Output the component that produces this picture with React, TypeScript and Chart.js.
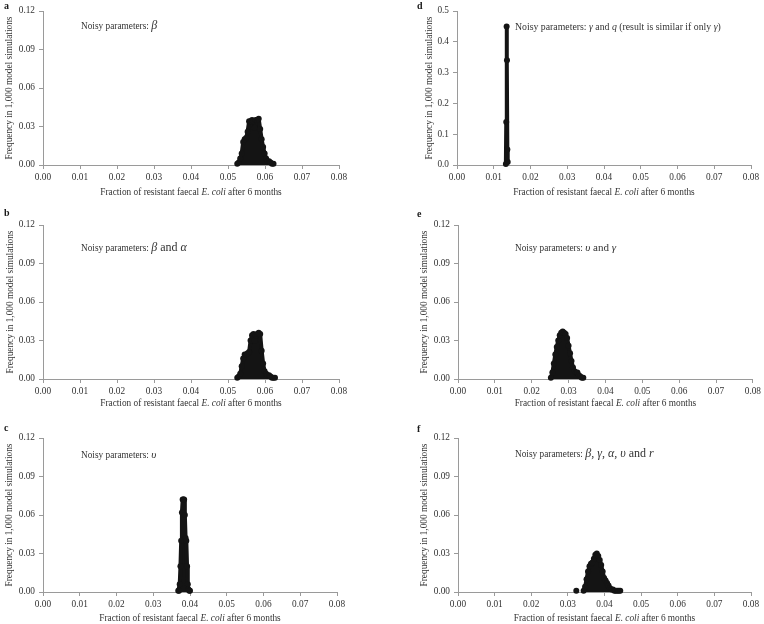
import React, { useEffect, useRef } from 'react';
import { Chart, registerables } from 'chart.js';
Chart.register(...registerables);

const FONT = "'Liberation Serif', 'Times New Roman', Times, serif";
const TEXT = '#333333';
const AXIS = '#9a9a9a';
const INK = '#141414';

// ---- data (fraction of resistant faecal E. coli, frequency) ----
const aX = [0.0525, 0.0529, 0.0533, 0.0537, 0.0541, 0.0545, 0.0549, 0.0553, 0.0557, 0.0561, 0.0565, 0.0569, 0.0572, 0.0575, 0.0579, 0.0583, 0.0587, 0.0591, 0.0595, 0.0599, 0.0603, 0.0607, 0.0611, 0.0615, 0.0619, 0.0623];
const aY = [0.001, 0.002, 0.005, 0.009, 0.018, 0.020, 0.021, 0.026, 0.034, 0.034, 0.035, 0.034, 0.029, 0.035, 0.035, 0.036, 0.028, 0.020, 0.014, 0.009, 0.005, 0.003, 0.003, 0.002, 0.001, 0.001];

const bX = [0.0525, 0.0529, 0.0533, 0.0537, 0.0541, 0.0545, 0.0549, 0.0553, 0.0557, 0.0561, 0.0565, 0.0569, 0.0572, 0.0575, 0.0579, 0.0583, 0.0587, 0.0591, 0.0595, 0.0599, 0.0603, 0.0607, 0.0611, 0.0615, 0.0619, 0.0623, 0.0627];
const bY = [0.001, 0.002, 0.004, 0.010, 0.016, 0.019, 0.019, 0.020, 0.021, 0.030, 0.034, 0.035, 0.030, 0.034, 0.035, 0.036, 0.035, 0.022, 0.012, 0.006, 0.004, 0.003, 0.003, 0.002, 0.001, 0.001, 0.001];

const cX = [0.0368, 0.0370, 0.0372, 0.0374, 0.0376, 0.0378, 0.0380, 0.0382, 0.0384, 0.0386, 0.0388, 0.0390, 0.0392, 0.0394, 0.0396, 0.0398, 0.0400];
const cY = [0.001, 0.001, 0.006, 0.020, 0.040, 0.062, 0.072, 0.072, 0.072, 0.060, 0.042, 0.040, 0.020, 0.006, 0.002, 0.001, 0.001];

const dX = [0.0133, 0.0134, 0.0135, 0.0136, 0.0137, 0.0138];
const dY = [0.003, 0.14, 0.45, 0.34, 0.05, 0.01];

const eX = [0.0252, 0.0256, 0.0260, 0.0264, 0.0268, 0.0272, 0.0276, 0.0280, 0.0284, 0.0288, 0.0292, 0.0296, 0.0300, 0.0304, 0.0308, 0.0312, 0.0316, 0.0320, 0.0324, 0.0328, 0.0332, 0.0336, 0.0340];
const eY = [0.001, 0.005, 0.012, 0.019, 0.025, 0.030, 0.034, 0.036, 0.037, 0.036, 0.035, 0.032, 0.026, 0.020, 0.014, 0.009, 0.006, 0.005, 0.005, 0.003, 0.002, 0.001, 0.001];

const fX = [0.0323, 0.0333, 0.0343, 0.0347, 0.0351, 0.0355, 0.0359, 0.0363, 0.0367, 0.0371, 0.0375, 0.0379, 0.0383, 0.0387, 0.0391, 0.0395, 0.0399, 0.0403, 0.0407, 0.0411, 0.0415, 0.0419, 0.0423, 0.0427, 0.0431, 0.0435, 0.0439, 0.0443];
const fY = [0.001, null, 0.001, 0.004, 0.010, 0.016, 0.020, 0.022, 0.023, 0.026, 0.029, 0.030, 0.028, 0.025, 0.021, 0.016, 0.011, 0.009, 0.007, 0.005, 0.003, 0.002, 0.002, 0.001, 0.001, 0.001, 0.001, 0.001];

const X_MIN = 0;
const X_MAX = 0.08;
const X_STEP = 0.01;
const Y_TITLE = 'Frequency in 1,000 model simulations';

type Seg = [string, boolean, number];

const X_TITLE: Seg[] = [
  ['Fraction of resistant faecal ', false, 9.3],
  ['E. coli', true, 9.3],
  [' after 6 months', false, 9.3],
];

const notes: Record<string, Seg[]> = {
  a: [['Noisy parameters: ', false, 9.3], ['β', true, 12]],
  b: [['Noisy parameters: ', false, 9.3], ['β', true, 12], [' and ', false, 12], ['α', true, 12]],
  c: [['Noisy parameters: ', false, 9.3], ['υ', true, 11]],
  d: [['Noisy parameters: ', false, 9.8], ['γ', true, 9.8], [' and ', false, 9.8], ['q', true, 9.8], [' (result is similar if only ', false, 9.8], ['γ', true, 9.8], [')', false, 9.8]],
  e: [['Noisy parameters: ', false, 9.3], ['υ', true, 11], [' and ', false, 11], ['γ', true, 11]],
  f: [['Noisy parameters: ', false, 9.3], ['β', true, 12], [', ', false, 12], ['γ', true, 12], [', ', false, 12], ['α', true, 12], [', ', false, 12], ['υ', true, 12], [' and ', false, 12], ['r', true, 12]],
};

interface PanelCfg {
  key: string;
  xs: number[];
  ys: (number | null)[];
  yMax: number;
  yStep: number;
  yDec: number;
  left: number;
  top: number;
  h: number;
  plotL: number;
  plotR: number;
  plotT: number;
  plotB: number;
  labelX: number;
  labelY: number;
  yTitleX: number;
  xTitleDy: number;
  noteX: number;
  noteY: number;
}

const panels: PanelCfg[] = [
  { key: 'a', xs: aX, ys: aY, yMax: 0.12, yStep: 0.03, yDec: 2, left: 0, top: 0, h: 200, plotL: 43, plotR: 339, plotT: 11, plotB: 165, labelX: 4, labelY: 6, yTitleX: 10, xTitleDy: 26.5, noteX: 81, noteY: 26 },
  { key: 'b', xs: bX, ys: bY, yMax: 0.12, yStep: 0.03, yDec: 2, left: 0, top: 205, h: 210, plotL: 43, plotR: 339, plotT: 20, plotB: 174, labelX: 4, labelY: 8, yTitleX: 11, xTitleDy: 24, noteX: 81, noteY: 43 },
  { key: 'c', xs: cX, ys: cY, yMax: 0.12, yStep: 0.03, yDec: 2, left: 0, top: 418, h: 206, plotL: 43, plotR: 337, plotT: 20, plotB: 174, labelX: 4, labelY: 10, yTitleX: 10, xTitleDy: 26, noteX: 81, noteY: 37 },
  { key: 'd', xs: dX, ys: dY, yMax: 0.5, yStep: 0.1, yDec: 1, left: 382, top: 0, h: 200, plotL: 75, plotR: 369, plotT: 11, plotB: 165, labelX: 35, labelY: 6, yTitleX: 48, xTitleDy: 26.5, noteX: 133, noteY: 27 },
  { key: 'e', xs: eX, ys: eY, yMax: 0.12, yStep: 0.03, yDec: 2, left: 382, top: 205, h: 210, plotL: 76, plotR: 371, plotT: 20, plotB: 174, labelX: 35, labelY: 9, yTitleX: 43, xTitleDy: 24, noteX: 133, noteY: 43 },
  { key: 'f', xs: fX, ys: fY, yMax: 0.12, yStep: 0.03, yDec: 2, left: 382, top: 418, h: 206, plotL: 76, plotR: 369, plotT: 20, plotB: 174, labelX: 35, labelY: 11, yTitleX: 43, xTitleDy: 26, noteX: 133, noteY: 36 },
];

function segFont(s: Seg) {
  return `${s[1] ? 'italic ' : ''}${s[2]}px ${FONT}`;
}

function drawSegs(ctx: CanvasRenderingContext2D, segs: Seg[], x: number, y: number, align: 'left' | 'center') {
  let total = 0;
  const widths = segs.map((s) => {
    ctx.font = segFont(s);
    const w = ctx.measureText(s[0]).width;
    total += w;
    return w;
  });
  let cx = align === 'center' ? x - total / 2 : x;
  ctx.textAlign = 'left';
  ctx.textBaseline = 'alphabetic';
  segs.forEach((s, i) => {
    ctx.font = segFont(s);
    ctx.fillText(s[0], cx, y + 3.3);
    cx += widths[i];
  });
}

function Panel({ cfg }: { cfg: PanelCfg }) {
  const ref = useRef<HTMLCanvasElement>(null);
  useEffect(() => {
    const canvas = ref.current;
    if (!canvas) return;
    const data = cfg.xs.map((x, i) => ({ x, y: cfg.ys[i] }));
    const textPlugin = {
      id: 'panelText' + cfg.key,
      afterDraw(chart: any) {
        const ctx: CanvasRenderingContext2D = chart.ctx;
        const ca = chart.chartArea;
        ctx.save();
        ctx.fillStyle = '#1a1a1a';
        ctx.font = `bold 10px ${FONT}`;
        ctx.textAlign = 'left';
        ctx.textBaseline = 'middle';
        ctx.fillText(cfg.key, cfg.labelX, cfg.labelY);
        ctx.fillStyle = TEXT;
        ctx.save();
        ctx.translate(cfg.yTitleX, (ca.top + ca.bottom) / 2);
        ctx.rotate(-Math.PI / 2);
        ctx.font = `9.3px ${FONT}`;
        ctx.textAlign = 'center';
        ctx.textBaseline = 'middle';
        ctx.fillText(Y_TITLE, 0, 0);
        ctx.restore();
        drawSegs(ctx, X_TITLE, (ca.left + ca.right) / 2, ca.bottom + cfg.xTitleDy, 'center');
        drawSegs(ctx, notes[cfg.key], cfg.noteX, cfg.noteY, 'left');
        ctx.restore();
      },
    };
    const tickFont = { family: FONT, size: 9.3 };
    const chart = new Chart(canvas, {
      type: 'scatter',
      data: {
        datasets: [
          {
            data,
            showLine: true,
            fill: 'origin',
            borderColor: INK,
            backgroundColor: INK,
            borderWidth: 4,
            borderJoinStyle: 'round',
            borderCapStyle: 'round',
            pointRadius: 3,
            pointBorderWidth: 0,
            pointBackgroundColor: INK,
            pointHoverRadius: 3,
            tension: 0,
            spanGaps: false,
            clip: false,
          } as any,
        ],
      },
      options: {
        animation: false,
        responsive: false,
        events: [],
        layout: { padding: { left: 0, right: 382 - cfg.plotR, top: cfg.plotT, bottom: 0 } },
        plugins: { legend: { display: false }, tooltip: { enabled: false } },
        scales: {
          x: {
            type: 'linear',
            min: X_MIN,
            max: X_MAX,
            afterFit: (s: any) => {
              s.height = cfg.h - cfg.plotB;
            },
            ticks: {
              stepSize: X_STEP,
              autoSkip: false,
              maxRotation: 0,
              padding: 3,
              color: TEXT,
              font: tickFont,
              callback: (v: any) => Number(v).toFixed(2),
            },
            grid: { display: true, drawOnChartArea: false, drawTicks: true, tickLength: 4, color: AXIS },
            border: { display: true, color: AXIS, width: 1 },
          },
          y: {
            type: 'linear',
            min: 0,
            max: cfg.yMax,
            afterFit: (s: any) => {
              s.width = cfg.plotL;
            },
            ticks: {
              stepSize: cfg.yStep,
              autoSkip: false,
              padding: 4,
              color: TEXT,
              font: tickFont,
              callback: (v: any) => Number(v).toFixed(cfg.yDec),
            },
            grid: { display: true, drawOnChartArea: false, drawTicks: true, tickLength: 4, color: AXIS },
            border: { display: true, color: AXIS, width: 1 },
          },
        },
      },
      plugins: [textPlugin],
    });
    return () => chart.destroy();
  }, [cfg]);
  return (
    <canvas
      ref={ref}
      width={382}
      height={cfg.h}
      style={{ position: 'absolute', left: cfg.left, top: cfg.top, width: 382, height: cfg.h }}
    />
  );
}

export default function App() {
  return (
    <div style={{ position: 'absolute', left: 0, top: 0, width: 764, height: 624, background: '#ffffff', overflow: 'hidden' }}>
      {panels.map((p) => (
        <Panel key={p.key} cfg={p} />
      ))}
    </div>
  );
}
